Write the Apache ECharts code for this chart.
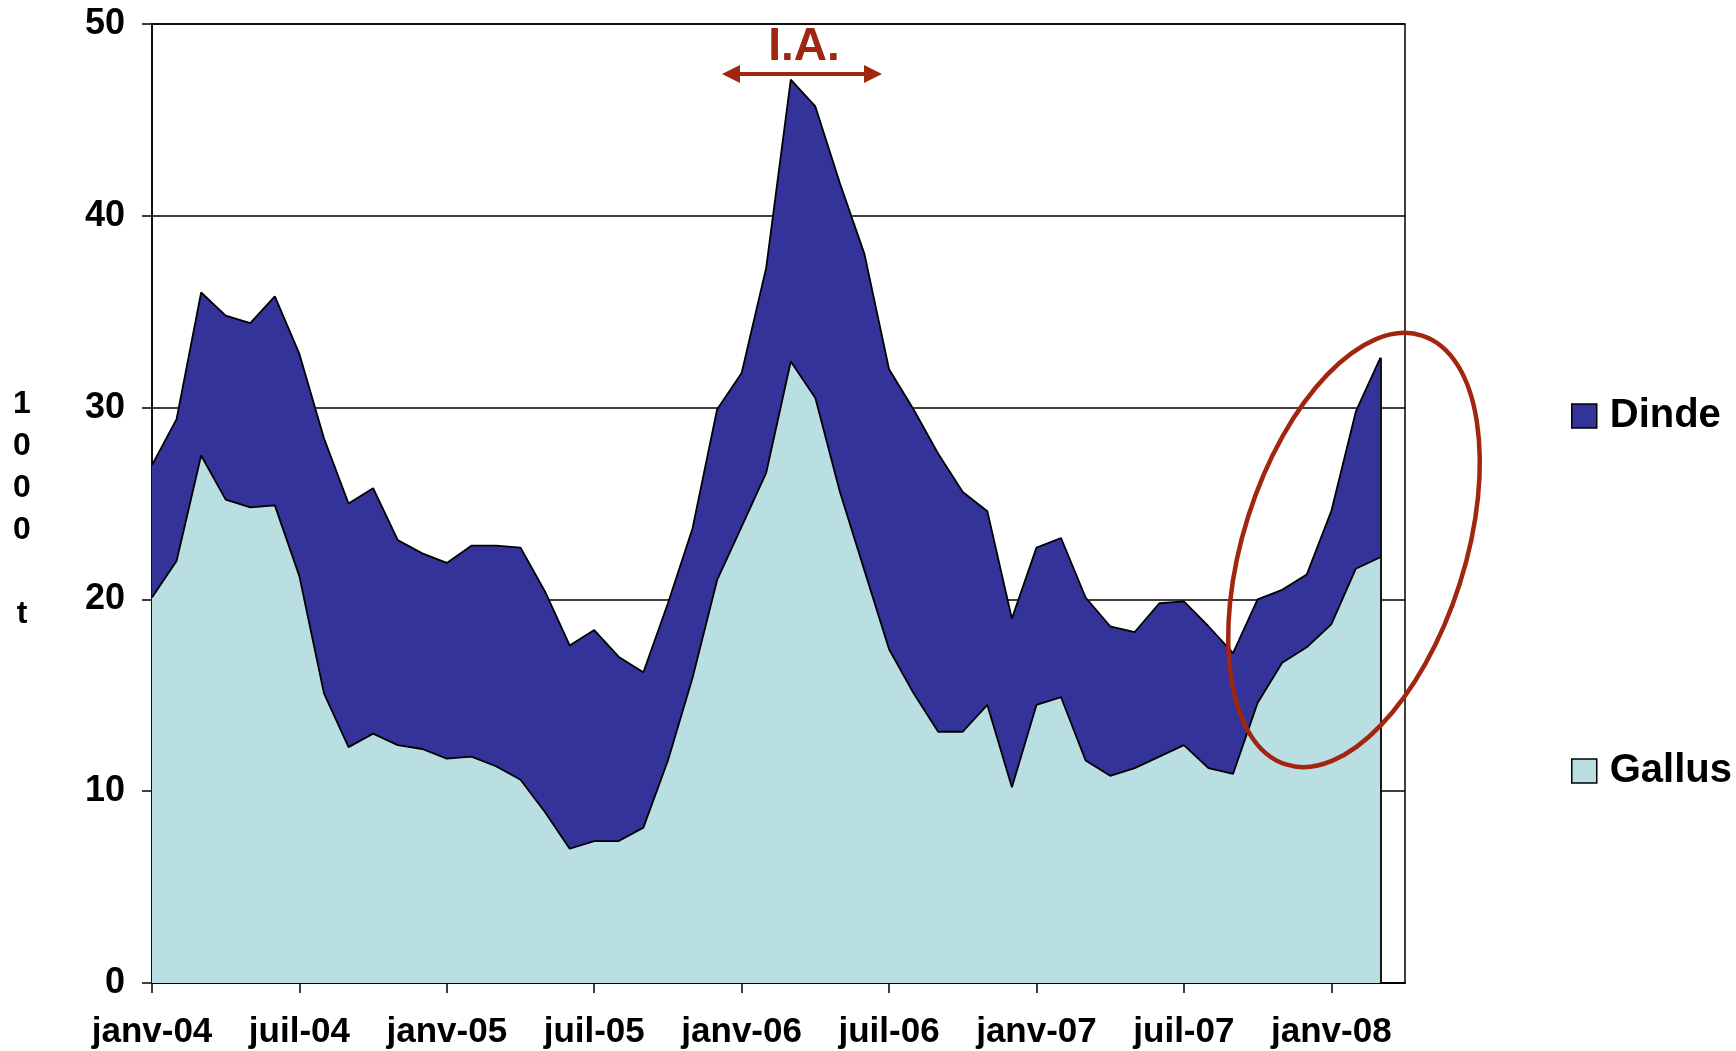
<!DOCTYPE html>
<html>
<head>
<meta charset="utf-8">
<script src="https://cdn.jsdelivr.net/npm/echarts@6/dist/echarts.min.js"></script>
<style>
  html, body { margin: 0; padding: 0; background: #fff; }
  #chart { width: 1736px; height: 1051px; }
</style>
</head>
<body>
<div id="chart"></div>
<script>
// mois affichés sur l'axe (un point par mois, janv-04 -> avr-08)
const monthNames = ['janv', 'févr', 'mars', 'avr', 'mai', 'juin', 'juil', 'août', 'sept', 'oct', 'nov', 'déc'];
const years = ['04', '05', '06', '07', '08'];
const lastMonthIndex = 3; // avr-08, bord droit du graphique

// 1000 t
const gallus = [
  20.1, 22.0, 27.5, 25.2, 24.8, 24.9, 21.2, 15.1, 12.3, 13.0, 12.4, 12.2,
  11.7, 11.8, 11.3, 10.6, 8.9, 7.0, 7.4, 7.4, 8.1, 11.6, 15.9, 21.0,
  23.8, 26.6, 32.4, 30.5, 25.6, 21.5, 17.4, 15.1, 13.1, 13.1, 14.5, 10.2,
  14.5, 14.9, 11.6, 10.8, 11.2, 11.8, 12.4, 11.2, 10.9, 14.6, 16.7, 17.5,
  18.7, 21.6, 22.2, null
];
const dinde = [
  6.9, 7.4, 8.5, 9.6, 9.6, 10.9, 11.6, 13.3, 12.7, 12.8, 10.7, 10.2,
  10.2, 11.0, 11.5, 12.1, 11.5, 10.6, 11.0, 9.6, 8.1, 8.2, 7.8, 8.9,
  8.0, 10.7, 14.7, 15.2, 16.1, 16.5, 14.6, 14.8, 14.5, 12.5, 10.1, 8.8,
  8.2, 8.3, 8.5, 7.8, 7.1, 8.0, 7.5, 7.4, 6.3, 5.4, 3.8, 3.8,
  5.9, 8.2, 10.4, null
];
const yTicks = [0, 10, 20, 30, 40, 50];

const categories = [];
years.forEach((y, yi) => {
  monthNames.forEach((m, mi) => {
    if (yi < years.length - 1 || mi <= lastMonthIndex) categories.push(m + '-' + y);
  });
});

const lastIdx = gallus.findIndex(v => v === null) - 1;
const lastTotal = gallus[lastIdx] + dinde[lastIdx];

const FONT = "'Liberation Sans', Arial, sans-serif";
const RED = '#A0260F';

const chart = echarts.init(document.getElementById('chart'));

const legendText = {
  fontFamily: FONT, fontWeight: 'bold', fontSize: 40, color: '#000',
  padding: [0, 0, 0, 8]
};

chart.setOption({
  animation: false,
  grid: {
    left: 152, right: 331, top: 24, bottom: 68,
    show: true, borderColor: '#000', borderWidth: 1.5
  },
  legend: [
    {
      data: ['Dinde'], orient: 'vertical', left: 1566, top: 391,
      icon: 'rect', itemWidth: 25, itemHeight: 24,
      itemStyle: { borderColor: '#000', borderWidth: 1.5 },
      textStyle: legendText
    },
    {
      data: ['Gallus'], orient: 'vertical', left: 1566, top: 746,
      icon: 'rect', itemWidth: 25, itemHeight: 24,
      itemStyle: { borderColor: '#000', borderWidth: 1.5 },
      textStyle: legendText
    }
  ],
  xAxis: {
    type: 'category',
    data: categories,
    boundaryGap: false,
    axisLine: { lineStyle: { color: '#000', width: 2 } },
    axisTick: { interval: 5, length: 10, lineStyle: { color: '#000', width: 1.5 } },
    axisLabel: {
      interval: 5, margin: 32, color: '#000',
      fontFamily: FONT, fontWeight: 'bold', fontSize: 35
    },
    splitLine: { show: false }
  },
  yAxis: {
    type: 'value',
    min: yTicks[0], max: yTicks[yTicks.length - 1], interval: 10,
    axisLine: { show: true, lineStyle: { color: '#000', width: 1.5 } },
    axisTick: { show: true, length: 10, lineStyle: { color: '#000', width: 1.5 } },
    axisLabel: {
      margin: 27, color: '#000',
      fontFamily: FONT, fontWeight: 'bold', fontSize: 36
    },
    splitLine: { lineStyle: { color: '#000', width: 1.5 } }
  },
  series: [
    {
      name: 'Gallus',
      type: 'line',
      stack: 'total',
      data: gallus,
      symbol: 'none',
      color: '#BADFE2',
      lineStyle: { color: '#000', width: 1.8 },
      areaStyle: { color: '#BADFE2', opacity: 1 },
      z: 3
    },
    {
      name: 'Dinde',
      type: 'line',
      stack: 'total',
      data: dinde,
      symbol: 'none',
      color: '#333399',
      lineStyle: { color: '#000', width: 1.8 },
      areaStyle: { color: '#333399', opacity: 1 },
      z: 2,
      markLine: {
        silent: true,
        symbol: 'none',
        label: { show: false },
        lineStyle: { color: '#000', width: 1.8, type: 'solid' },
        data: [[{ coord: [lastIdx, 0] }, { coord: [lastIdx, lastTotal] }]]
      }
    }
  ],
  graphic: [
    {
      type: 'text',
      x: 22, y: 383,
      style: {
        text: '1\n0\n0\n0\n\nt',
        fontFamily: FONT, fontWeight: 'bold', fontSize: 32,
        lineHeight: 42, fill: '#000', align: 'center', verticalAlign: 'top'
      }
    },
    {
      type: 'text',
      x: 804, y: 47,
      style: {
        text: 'I.A.',
        fontFamily: FONT, fontWeight: 'bold', fontSize: 46,
        fill: RED, align: 'center', verticalAlign: 'middle'
      }
    },
    {
      type: 'line',
      shape: { x1: 738, y1: 74, x2: 866, y2: 74 },
      style: { stroke: RED, lineWidth: 4 }
    },
    {
      type: 'polygon',
      shape: { points: [[722, 74], [740, 65], [740, 83]] },
      style: { fill: RED }
    },
    {
      type: 'polygon',
      shape: { points: [[882, 74], [864, 65], [864, 83]] },
      style: { fill: RED }
    },
    {
      type: 'ellipse',
      x: 1354, y: 550,
      rotation: -0.307,
      shape: { cx: 0, cy: 0, rx: 111, ry: 225 },
      style: { fill: 'none', stroke: RED, lineWidth: 4.5 },
      z: 10
    }
  ]
});
</script>
</body>
</html>
